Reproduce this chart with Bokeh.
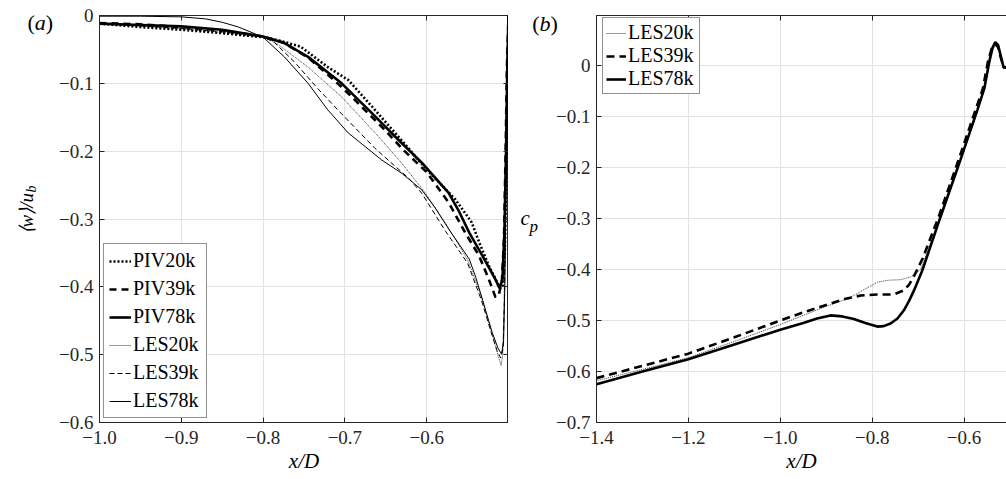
from bokeh.plotting import figure
from bokeh.layouts import row
from bokeh.models import (Range1d, LinearAxis, Legend, LegendItem, Label,
                          CustomJSTickFormatter)
from bokeh.embed import file_html
from bokeh.resources import INLINE

# ---------------- data: panel (a)  <w>/u_b along x/D ----------------
a_x_piv20 = [-1.0, -0.95, -0.9, -0.85, -0.8, -0.78, -0.754, -0.721, -0.696, -0.667, -0.635,
             -0.600, -0.565, -0.545, -0.536, -0.524, -0.514, -0.510, -0.507, -0.5045, -0.5025,
             -0.501, -0.5]
a_y_piv20 = [-0.012, -0.017, -0.021, -0.026, -0.032, -0.037, -0.046, -0.076, -0.095, -0.134, -0.178,
             -0.227, -0.271, -0.305, -0.334, -0.369, -0.393, -0.402, -0.398, -0.35, -0.22,
             -0.08, 0.0]

a_x_piv39 = [-1.0, -0.95, -0.9, -0.85, -0.8, -0.775, -0.745, -0.72, -0.7, -0.655, -0.627,
             -0.600, -0.573, -0.553, -0.536, -0.524, -0.516, -0.512, -0.508, -0.5055, -0.5035,
             -0.502, -0.5]
a_y_piv39 = [-0.011, -0.013, -0.017, -0.022, -0.031, -0.040, -0.062, -0.088, -0.110, -0.164, -0.200,
             -0.231, -0.276, -0.320, -0.354, -0.389, -0.415, -0.413, -0.39, -0.33, -0.2,
             -0.08, 0.0]

a_x_piv78 = [-1.0, -0.95, -0.9, -0.85, -0.8, -0.775, -0.745, -0.704, -0.667, -0.639, -0.606,
             -0.573, -0.56, -0.548, -0.532, -0.516, -0.511, -0.5075, -0.505, -0.503, -0.5015, -0.5]
a_y_piv78 = [-0.012, -0.014, -0.016, -0.021, -0.031, -0.040, -0.061, -0.100, -0.144, -0.178, -0.217,
             -0.262, -0.290, -0.320, -0.354, -0.389, -0.402, -0.39, -0.32, -0.2, -0.08, 0.0]

a_x_les20 = [-1.0, -0.95, -0.9, -0.85, -0.8, -0.786, -0.745, -0.704, -0.663, -0.631, -0.602,
             -0.575, -0.55, -0.533, -0.52, -0.513, -0.509, -0.507, -0.5055, -0.504, -0.5025, -0.5]
a_y_les20 = [-0.012, -0.016, -0.020, -0.025, -0.032, -0.039, -0.076, -0.120, -0.173, -0.217, -0.261,
             -0.310, -0.360, -0.415, -0.470, -0.500, -0.516, -0.50, -0.43, -0.3, -0.12, 0.0]

a_x_les39 = [-1.0, -0.95, -0.9, -0.85, -0.8, -0.786, -0.762, -0.733, -0.704, -0.663, -0.622,
             -0.606, -0.577, -0.55, -0.533, -0.521, -0.514, -0.5095, -0.5065, -0.505, -0.5035,
             -0.502, -0.5]
a_y_les39 = [-0.011, -0.015, -0.019, -0.024, -0.031, -0.040, -0.068, -0.108, -0.145, -0.196, -0.240,
             -0.262, -0.318, -0.365, -0.420, -0.468, -0.494, -0.505, -0.49, -0.42, -0.28,
             -0.1, 0.0]

a_x_les78 = [-1.0, -0.95, -0.9, -0.87, -0.85, -0.83, -0.8, -0.774, -0.745, -0.721, -0.696,
             -0.655, -0.63, -0.606, -0.59, -0.573, -0.548, -0.54, -0.532, -0.520, -0.513, -0.5085,
             -0.506, -0.5045, -0.503, -0.5015, -0.5]
a_y_les78 = [-0.001, -0.001, -0.002, -0.005, -0.010, -0.017, -0.032, -0.061, -0.100, -0.139, -0.173,
             -0.213, -0.233, -0.257, -0.283, -0.315, -0.359, -0.386, -0.418, -0.467, -0.490, -0.499,
             -0.48, -0.40, -0.25, -0.1, 0.0]

# ---------------- data: panel (b)  c_p along x/D ----------------
b_x_les20 = [-1.4, -1.3, -1.2, -1.1, -1.0, -0.95, -0.891, -0.865, -0.84, -0.815, -0.789, -0.765,
             -0.738, -0.717, -0.705, -0.695, -0.651, -0.608, -0.571, -0.556, -0.545, -0.538, -0.532,
             -0.526, -0.52, -0.514, -0.508]
b_y_les20 = [-0.618, -0.596, -0.573, -0.541, -0.508, -0.490, -0.469, -0.461, -0.451, -0.438, -0.425,
             -0.421, -0.420, -0.415, -0.408, -0.400, -0.300, -0.188, -0.090, -0.048, 0.004, 0.030,
             0.040, 0.034, 0.014, -0.004, -0.004]

b_x_les39 = [-1.4, -1.3, -1.2, -1.1, -1.0, -0.95, -0.891, -0.86, -0.825, -0.79, -0.753, -0.731,
             -0.72, -0.709, -0.69, -0.655, -0.612, -0.575, -0.559, -0.548, -0.54, -0.533, -0.526,
             -0.52, -0.514, -0.508]
b_y_les39 = [-0.613, -0.589, -0.565, -0.533, -0.500, -0.484, -0.467, -0.458, -0.451, -0.449, -0.449,
             -0.441, -0.430, -0.413, -0.378, -0.296, -0.185, -0.087, -0.045, 0.008, 0.033, 0.043,
             0.036, 0.015, -0.003, -0.004]

b_x_les78 = [-1.4, -1.3, -1.2, -1.1, -1.0, -0.95, -0.92, -0.891, -0.865, -0.84, -0.815, -0.789,
             -0.775, -0.76, -0.745, -0.731, -0.72, -0.709, -0.691, -0.651, -0.608, -0.571, -0.556,
             -0.545, -0.538, -0.532, -0.526, -0.52, -0.514, -0.508]
b_y_les78 = [-0.625, -0.600, -0.576, -0.547, -0.518, -0.505, -0.496, -0.490, -0.492, -0.497, -0.505,
             -0.512, -0.511, -0.506, -0.496, -0.480, -0.462, -0.441, -0.402, -0.296, -0.185, -0.087,
             -0.045, 0.008, 0.035, 0.046, 0.040, 0.018, -0.004, -0.004]

# tick positions
a_xticks = [-1.0, -0.9, -0.8, -0.7, -0.6]
a_yticks = [-0.6, -0.5, -0.4, -0.3, -0.2, -0.1, 0.0]
b_xticks = [-1.4, -1.2, -1.0, -0.8, -0.6]
b_yticks = [-0.7, -0.6, -0.5, -0.4, -0.3, -0.2, -0.1, 0.0]

SERIF = "Liberation Serif"
INK = "#262626"
GRID = "#e2e2e2"

tick_fmt_code = """
if (Math.abs(tick) < 1e-9) { return '0'; }
return (tick < 0 ? '\u2212' : '') + Math.abs(tick).toFixed(1);
"""


def style_axes(p, xticks, yticks):
    for ax in (p.xaxis[0], p.yaxis[0]):
        ax.formatter = CustomJSTickFormatter(code=tick_fmt_code)
        ax.major_tick_in = 5
        ax.major_tick_out = 0
        ax.minor_tick_line_color = None
        ax.axis_line_color = INK
        ax.major_tick_line_color = INK
        ax.major_label_text_font = SERIF
        ax.major_label_text_font_size = "19px"
        ax.major_label_text_color = INK
    p.xaxis.ticker = xticks
    p.yaxis.ticker = yticks
    p.xgrid.ticker = xticks
    p.ygrid.ticker = yticks
    p.xaxis.major_label_standoff = 8
    p.yaxis.major_label_standoff = 6
    p.xaxis.axis_label = "x/D"
    p.xaxis.axis_label_text_font = SERIF
    p.xaxis.axis_label_text_font_style = "italic"
    p.xaxis.axis_label_text_font_size = "21px"
    p.xaxis.axis_label_text_color = "#000000"
    p.xaxis.axis_label_standoff = 2
    for g in (p.xgrid, p.ygrid):
        g.grid_line_color = GRID
        g.grid_line_width = 1


def mirror_axis(p, ticks, side):
    ax = LinearAxis(ticker=ticks, formatter=CustomJSTickFormatter(code="return '';"),
                    major_tick_in=5, major_tick_out=0, minor_tick_line_color=None,
                    major_label_text_font_size="0px", major_label_standoff=0,
                    axis_line_color=INK, major_tick_line_color=INK)
    p.add_layout(ax, side)


def make_legend(p, items, loc, spacing, padding, glyph_w, label_w):
    leg = Legend(items=items, location=loc, spacing=spacing, padding=padding, margin=0,
                 glyph_width=glyph_w, glyph_height=20, label_height=20, label_width=label_w,
                 label_standoff=2, label_text_font=SERIF, label_text_font_size="20px",
                 label_text_color="#000000", border_line_color=INK, border_line_width=1,
                 background_fill_color="white", background_fill_alpha=1.0)
    p.add_layout(leg)


def margin_text(p, side, x, y, text, x_offset=0, size="21px", style="normal", angle=0.0):
    # text outside the frame lives in a side panel; its position uses the data scales
    p.add_layout(Label(x=x, y=y, x_offset=x_offset, text=text, text_font=SERIF,
                       text_font_size=size, text_font_style=style, text_color="#000000",
                       text_align="left", text_baseline="alphabetic",
                       angle=angle, angle_units="deg"), side)


# ---------------- panel (a) ----------------
pa = figure(width=508, height=479, x_range=Range1d(-1.0, -0.5), y_range=Range1d(-0.6, 0.0),
            output_backend="svg", toolbar_location=None,
            min_border_left=99, min_border_right=0, min_border_top=15, min_border_bottom=55)
pa.outline_line_color = INK
pa.background_fill_color = "white"
pa.border_fill_color = "white"
style_axes(pa, a_xticks, a_yticks)
mirror_axis(pa, a_yticks, "right")
mirror_axis(pa, a_xticks, "above")

r_les20 = pa.line(a_x_les20, a_y_les20, line_color="#222222", line_width=0.9, line_dash="1 1")
r_les39 = pa.line(a_x_les39, a_y_les39, line_color="#000000", line_width=1, line_dash="5 3")
r_les78 = pa.line(a_x_les78, a_y_les78, line_color="#000000", line_width=1)
r_piv20 = pa.line(a_x_piv20, a_y_piv20, line_color="#000000", line_width=2.6, line_dash="2 2")
r_piv39 = pa.line(a_x_piv39, a_y_piv39, line_color="#000000", line_width=2.6, line_dash="7 5")
r_piv78 = pa.line(a_x_piv78, a_y_piv78, line_color="#000000", line_width=2.6)

make_legend(pa, [LegendItem(label="PIV20k", renderers=[r_piv20]),
                 LegendItem(label="PIV39k", renderers=[r_piv39]),
                 LegendItem(label="PIV78k", renderers=[r_piv78]),
                 LegendItem(label="LES20k", renderers=[r_les20]),
                 LegendItem(label="LES39k", renderers=[r_les39]),
                 LegendItem(label="LES78k", renderers=[r_les78])],
            loc=(4, 4), spacing=5, padding=5, glyph_w=22, label_w=68)

# y-axis title <w>/u_b, written bottom-to-top
margin_text(pa, "left", -1.0, -0.3227, "\u27e8w\u27e9/u", x_offset=-73, size="19px",
            style="italic", angle=90)
margin_text(pa, "above", -1.0, -0.2611, "b", x_offset=-68, size="14px", style="italic", angle=90)
# panel tag (a)
margin_text(pa, "left", -1.0, -0.0103, "(", x_offset=-72, size="22px")
margin_text(pa, "left", -1.0, -0.0103, "a", x_offset=-64.7, size="22px", style="italic")
margin_text(pa, "left", -1.0, -0.0103, ")", x_offset=-53.7, size="22px")

# ---------------- panel (b) ----------------
pb = figure(width=498, height=479, x_range=Range1d(-1.4, -0.5077), y_range=Range1d(-0.7, 0.098),
            output_backend="svg", toolbar_location=None,
            min_border_left=88, min_border_right=0, min_border_top=15, min_border_bottom=57)
pb.outline_line_color = None
pb.background_fill_color = "white"
pb.border_fill_color = "white"
style_axes(pb, b_xticks, b_yticks)
mirror_axis(pb, b_xticks, "above")

s_les20 = pb.line(b_x_les20, b_y_les20, line_color="#222222", line_width=0.9, line_dash="1 1")
s_les39 = pb.line(b_x_les39, b_y_les39, line_color="#000000", line_width=2.6, line_dash="8 5")
s_les78 = pb.line(b_x_les78, b_y_les78, line_color="#000000", line_width=2.6)

make_legend(pb, [LegendItem(label="LES20k", renderers=[s_les20]),
                 LegendItem(label="LES39k", renderers=[s_les39]),
                 LegendItem(label="LES78k", renderers=[s_les78])],
            loc=(6, 328), spacing=0, padding=3, glyph_w=20, label_w=68)

# y-axis title c_p
margin_text(pb, "left", -1.4, -0.3, "c", x_offset=-76, size="21px", style="italic")
margin_text(pb, "left", -1.4, -0.315, "p", x_offset=-67, size="17px", style="italic")
# panel tag (b)
margin_text(pb, "left", -1.4, 0.0824, "(", x_offset=-64.3, size="22px")
margin_text(pb, "left", -1.4, 0.0824, "b", x_offset=-57, size="22px", style="italic")
margin_text(pb, "left", -1.4, 0.0824, ")", x_offset=-46, size="22px")

layout = row(pa, pb)
open("out.html", "w").write(file_html(layout, INLINE))
